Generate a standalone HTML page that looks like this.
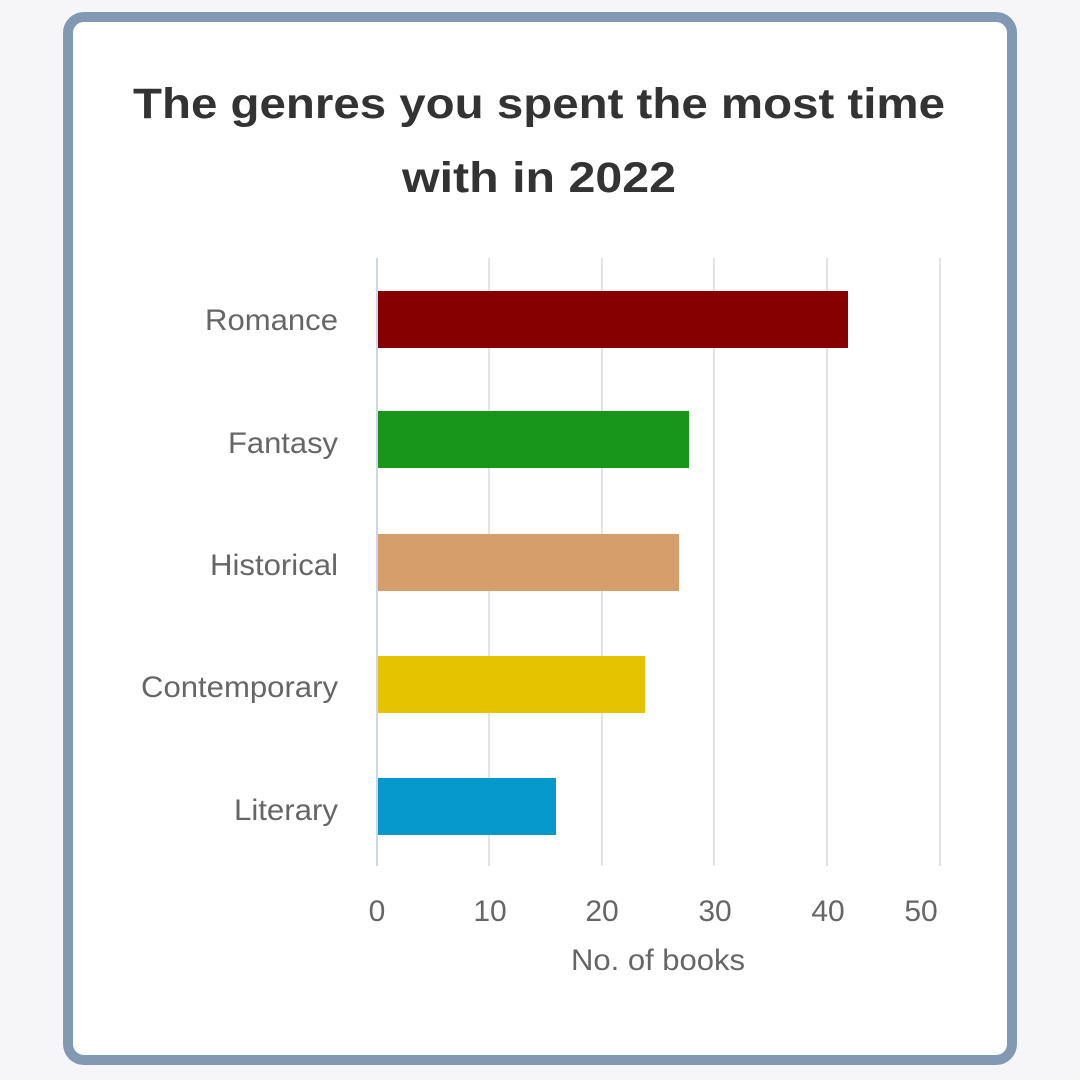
<!DOCTYPE html>
<html><head><style>
html,body{margin:0;padding:0;background:#f6f6f8;}
</style></head><body>
<svg width="1080" height="1080" xmlns="http://www.w3.org/2000/svg" style="display:block">
<rect x="0" y="0" width="1080" height="1080" fill="#f6f6f8"/>
<rect x="68" y="17" width="944" height="1043" rx="16" fill="#ffffff" stroke="#8199b2" stroke-width="10"/>
<g font-family="Liberation Sans, DejaVu Sans, sans-serif" fill="#333">
<text x="539" y="118" font-size="43" font-weight="bold" text-anchor="middle" textLength="812" lengthAdjust="spacingAndGlyphs">The genres you spent the most time</text>
<text x="539" y="192" font-size="43" font-weight="bold" text-anchor="middle" textLength="274" lengthAdjust="spacingAndGlyphs">with in 2022</text>
</g>
<g stroke="#e3e3e3" stroke-width="2">
<line x1="489" y1="258" x2="489" y2="866"/>
<line x1="602" y1="258" x2="602" y2="866"/>
<line x1="714" y1="258" x2="714" y2="866"/>
<line x1="827" y1="258" x2="827" y2="866"/>
<line x1="940" y1="258" x2="940" y2="866"/>
</g>
<line x1="377" y1="258" x2="377" y2="866" stroke="#ccd6eb" stroke-width="2"/>
<rect x="378" y="291" width="470" height="57" fill="#870000"/>
<rect x="378" y="411" width="311" height="57" fill="#17961a"/>
<rect x="378" y="534" width="301" height="57" fill="#d59e6b"/>
<rect x="378" y="656" width="267" height="57" fill="#e5c300"/>
<rect x="378" y="778" width="178" height="57" fill="#0499c8"/>
<g font-family="Liberation Sans, sans-serif" fill="#666" font-size="30" text-anchor="end">
<text x="338" y="330" textLength="133" lengthAdjust="spacingAndGlyphs">Romance</text>
<text x="338" y="453" textLength="110" lengthAdjust="spacingAndGlyphs">Fantasy</text>
<text x="338" y="575" textLength="128" lengthAdjust="spacingAndGlyphs">Historical</text>
<text x="338" y="697" textLength="197" lengthAdjust="spacingAndGlyphs">Contemporary</text>
<text x="338" y="820" textLength="104" lengthAdjust="spacingAndGlyphs">Literary</text>
</g>
<g font-family="Liberation Sans, sans-serif" fill="#666" font-size="30" text-anchor="middle">
<text x="377" y="921">0</text>
<text x="490" y="921">10</text>
<text x="602" y="921">20</text>
<text x="715" y="921">30</text>
<text x="828" y="921">40</text>
<text x="921" y="921">50</text>
<text x="658" y="970" textLength="174" lengthAdjust="spacingAndGlyphs">No. of books</text>
</g>
</svg>
</body></html>
